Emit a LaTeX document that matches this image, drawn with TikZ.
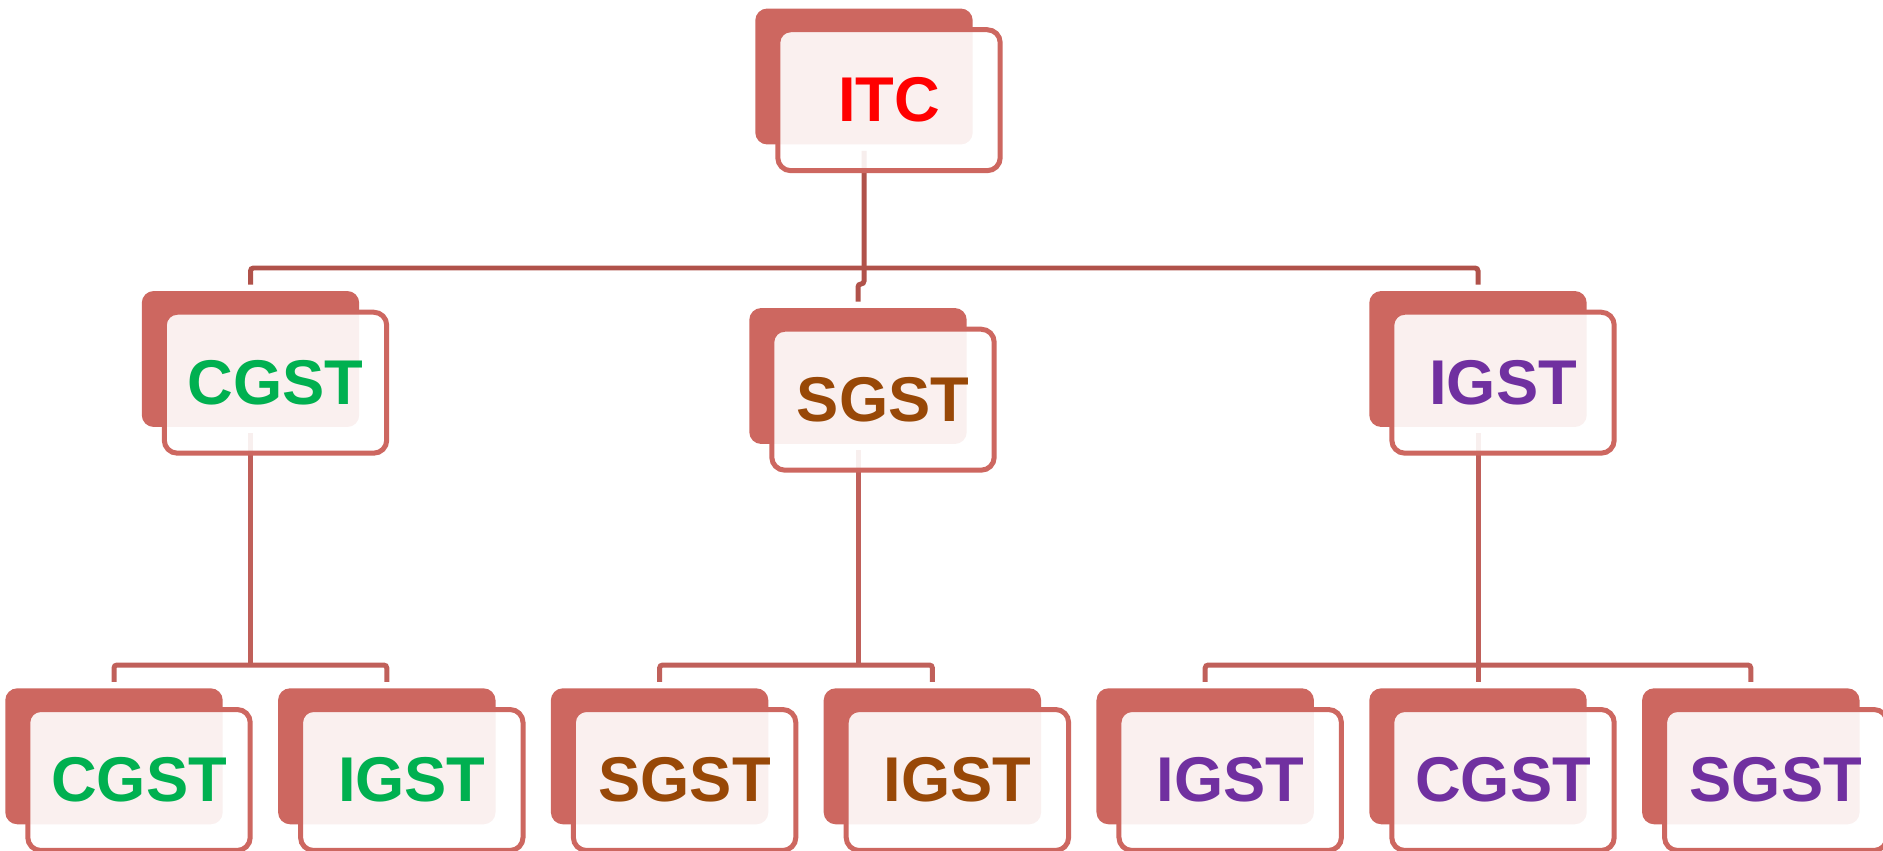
\documentclass[tikz,border=0pt]{standalone}
\usepackage{fontspec}
\setmainfont{Liberation Sans}
\usetikzlibrary{calc,backgrounds}

\definecolor{boxred}{RGB}{205,103,96}
\definecolor{linkdark}{RGB}{176,82,74}
\definecolor{linkred}{RGB}{192,96,90}
\definecolor{taxred}{RGB}{255,0,0}
\definecolor{taxgreen}{RGB}{0,176,80}
\definecolor{taxbrown}{RGB}{152,72,7}
\definecolor{taxpurple}{RGB}{112,48,160}

\begin{document}
\begin{tikzpicture}[
    x=0.02cm, y=-0.02cm,
    back/.style={rectangle, fill=boxred, rounded corners=0.24cm, minimum width=4.35cm, minimum height=2.72cm, inner sep=0pt},
    front/.style={rectangle, draw=boxred, line width=0.1cm, fill=white, fill opacity=0.9, text opacity=1, rounded corners=0.26cm, minimum width=4.45cm, minimum height=2.82cm, inner sep=0pt, font=\fontsize{36}{43}\selectfont\bfseries},
    link/.style={draw=linkred, line width=0.1cm, rounded corners=0.06cm, shorten <=0.12cm, shorten >=0.12cm},
    trunk/.style={link, shorten >=0pt}
]
\useasboundingbox (0,0) rectangle (1883,851);

% Top
\node[back] (itc-b) at (864,76.5) {};
\node[front, text=taxred] (itc) at (889,100.2) {ITC};

% Second row
\node[back] (cgst-b) at (250.5,359) {};
\node[front, text=taxgreen] (cgst) at (275.5,382.7) {CGST};
\node[back] (sgst-b) at (858,376) {};
\node[front, text=taxbrown] (sgst) at (883,399.7) {SGST};
\node[back] (igst-b) at (1478,359) {};
\node[front, text=taxpurple] (igst) at (1503,382.7) {IGST};

% Third row
\node[back] (cgstC-b) at (114,756.3) {};
\node[front, text=taxgreen] (cgstC) at (139,780) {CGST};
\node[back] (cgstI-b) at (386.8,756.3) {};
\node[front, text=taxgreen] (cgstI) at (411.8,780) {IGST};
\node[back] (sgstS-b) at (659.6,756.3) {};
\node[front, text=taxbrown] (sgstS) at (684.6,780) {SGST};
\node[back] (sgstI-b) at (932.4,756.3) {};
\node[front, text=taxbrown] (sgstI) at (957.4,780) {IGST};
\node[back] (igstI-b) at (1205.2,756.3) {};
\node[front, text=taxpurple] (igstI) at (1230.2,780) {IGST};
\node[back] (igstC-b) at (1478,756.3) {};
\node[front, text=taxpurple] (igstC) at (1503,780) {CGST};
\node[back] (igstS-b) at (1750.8,756.3) {};
\node[front, text=taxpurple] (igstS) at (1775.8,780) {SGST};

% Connections
\coordinate (bus1) at (864,268);
\coordinate (jog) at (0,284);
\coordinate (bus2) at (0,665);
\begin{scope}[on background layer]
\draw[link, draw=linkdark] (itc-b) -- (itc-b |- jog) -| (sgst-b);
\draw[link, draw=linkdark] (cgst-b) |- (bus1) -| (igst-b);

\draw[trunk] (cgst-b) -- (cgst-b |- bus2);
\draw[link] (cgstC-b) |- (cgst-b |- bus2) -| (cgstI-b);

\draw[trunk] (sgst-b) -- (sgst-b |- bus2);
\draw[link] (sgstS-b) |- (sgst-b |- bus2) -| (sgstI-b);

\draw[link] (igst-b) -- (igstC-b);
\draw[link] (igstI-b) |- (igst-b |- bus2) -| (igstS-b);
\end{scope}

\end{tikzpicture}
\end{document}
